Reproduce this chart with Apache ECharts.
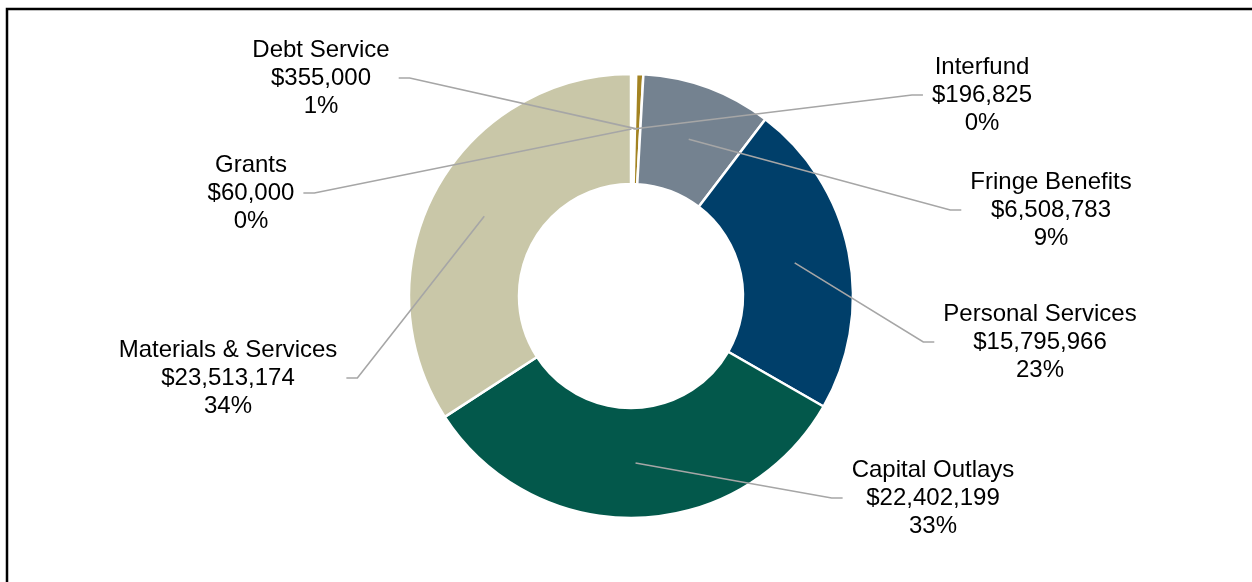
<!DOCTYPE html>
<html><head><meta charset="utf-8">
<script src="https://cdn.jsdelivr.net/npm/echarts@6/dist/echarts.min.js"></script>
<style>html,body{margin:0;padding:0;background:#fff}#c{width:1252px;height:582px}</style>
</head><body><div id="c"></div>
<script>
const categories = ['Grants','Interfund','Debt Service','Fringe Benefits','Personal Services','Capital Outlays','Materials & Services'];
const values = [60000,196825,355000,6508783,15795966,22402199,23513174];
const colors = ['#FFFFFF','#FFFFFF','#A38322','#748290','#003F6A','#03584B','#C9C7A8'];
// label text-block centre (middle line) and which side of the label the leader attaches
const labelCenters = [[251,193],[982,95],[321,78],[1051,210],[1040,342],[933,498],[228,378]];
const lineSide = ['right','left','right','left','left','left','right'];

const CX = 631, CY = 296, R_IN = 112, R_OUT = 222, R_MID = 167;

const chart = echarts.init(document.getElementById('c'), null, {renderer:'canvas'});
const base = {
  type: 'pie',
  center: [CX, CY],
  radius: [R_IN, R_OUT],
  startAngle: 90,
  clockwise: true,
  percentPrecision: 0,
  avoidLabelOverlap: false,
  minShowLabelAngle: 0,
  emphasis: {disabled: true},
  silent: true
};
chart.setOption({
  animation: false,
  backgroundColor: '#fff',
  graphic: [{
    type: 'rect', shape: {x: 7, y: 9, width: 1300, height: 700},
    style: {fill: 'none', stroke: '#000', lineWidth: 2.5}, silent: true, z: 100
  }],
  series: [Object.assign({}, base, {
    z: 2,
    itemStyle: {borderColor: '#fff', borderWidth: 2.5},
    label: {show: false},
    labelLine: {show: false},
    data: categories.map((c, i) => ({name: c, value: values[i], itemStyle: {color: colors[i]}}))
  }), Object.assign({}, base, {
    z: 5,
    itemStyle: {color: 'rgba(0,0,0,0)', borderWidth: 0},
    label: {
      show: true, position: 'outside',
      fontFamily: 'Liberation Sans, Arial, sans-serif',
      fontSize: 24, lineHeight: 28, color: '#000',
      formatter: p => p.name + '\n$' + p.value.toLocaleString('en-US') + '\n' + p.percent + '%'
    },
    labelLine: {show: true, length: 20, length2: 20, smooth: false,
      lineStyle: {color: '#A6A6A6', width: 1.6}},
    labelLayout: function (p) {
      const i = p.dataIndex;
      const lx = labelCenters[i][0], ly = labelCenters[i][1];
      const w = p.labelRect.width;
      const p0 = p.labelLinePoints[0];
      const k = R_MID / R_OUT;
      const s = [CX + (p0[0] - CX) * k, CY + (p0[1] - CY) * k];
      const dir = lineSide[i] === 'right' ? 1 : -1;
      const e = [lx + dir * (w / 2 + 9), ly];
      const m = [e[0] + dir * 11, ly];
      return {x: lx, y: ly, align: 'center', verticalAlign: 'middle', labelLinePoints: [s, m, e]};
    },
    data: categories.map((c, i) => ({name: c, value: values[i]}))
  })]
});
</script></body></html>
